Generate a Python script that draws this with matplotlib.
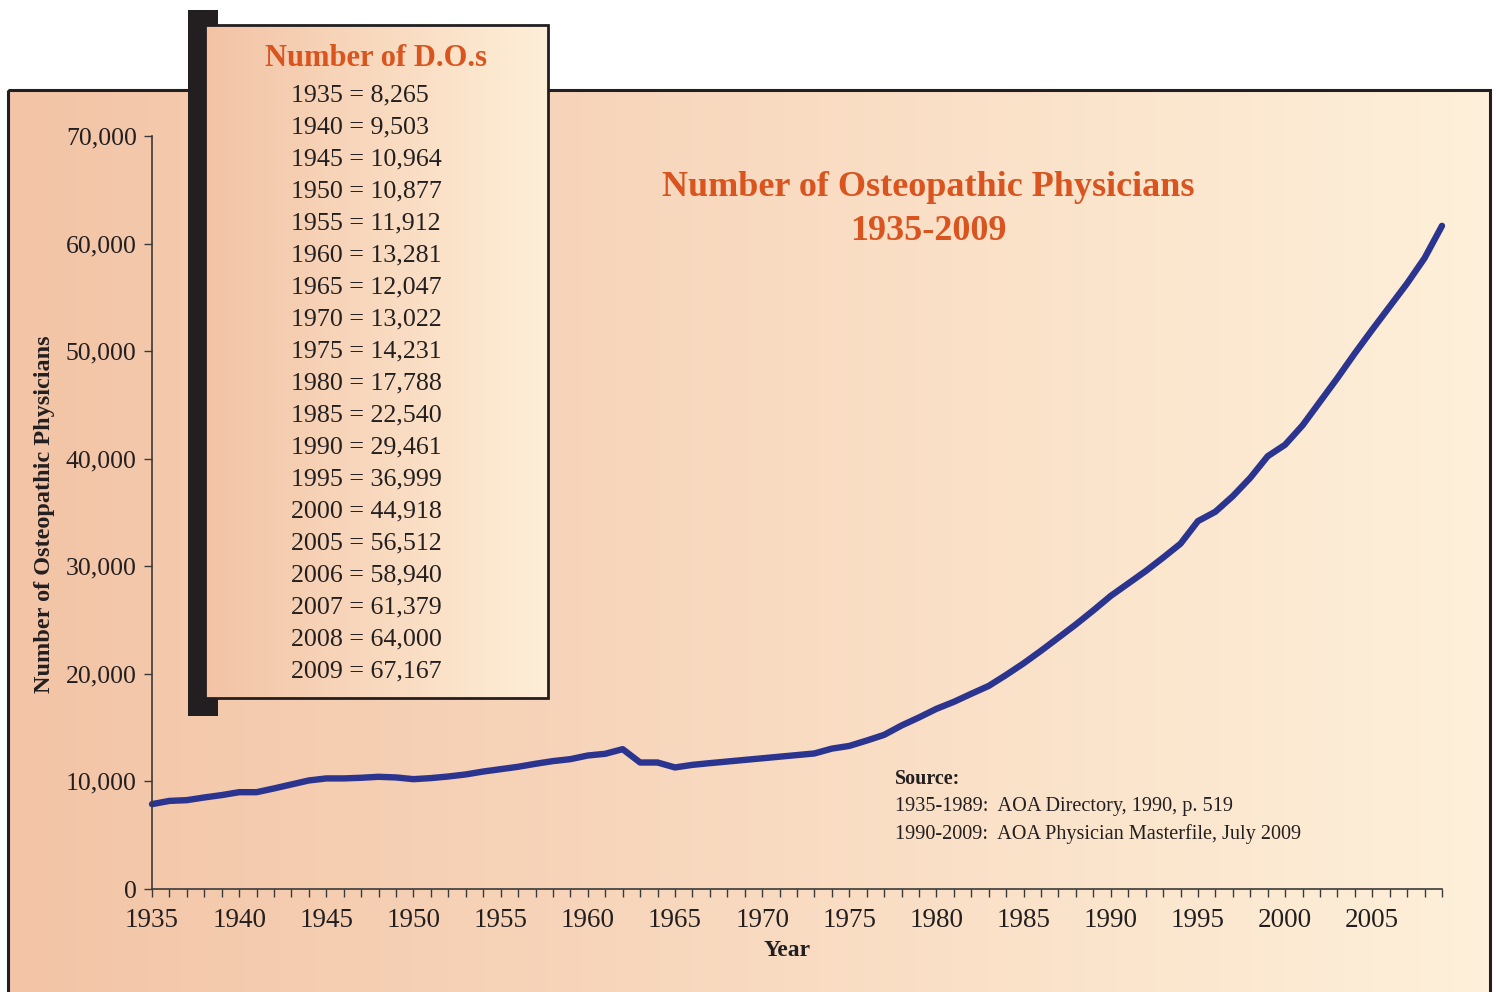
"""Number of Osteopathic Physicians 1935-2009, line chart with a D.O. count inset."""
import numpy as np
import matplotlib

matplotlib.use("Agg")
import matplotlib.pyplot as plt
from matplotlib.colors import LinearSegmentedColormap
from matplotlib.patches import Rectangle
from matplotlib.ticker import FuncFormatter, MultipleLocator

plt.rcParams["font.family"] = ["Liberation Serif", "DejaVu Serif"]

# --- data ---
years = list(range(1935, 2010))
physicians = [
    7890, 8190, 8260, 8510, 8730, 9000, 9000, 9350, 9720, 10090,
    10280, 10280, 10340, 10430, 10370, 10210, 10310, 10460, 10650, 10920,
    11140, 11360, 11640, 11890, 12070, 12410, 12570, 13000, 11760, 11760,
    11300, 11540, 11700, 11850, 12000, 12150, 12300, 12450, 12600, 13050,
    13300, 13800, 14330, 15200, 15950, 16750, 17400, 18150, 18880, 19900,
    20980, 22150, 23370, 24600, 25900, 27250, 28400, 29550, 30800, 32100,
    34200, 35070, 36520, 38220, 40230, 41300, 43100, 45300, 47500, 49800,
    52000, 54150, 56300, 58650, 61650,
]
table_years = [1935, 1940, 1945, 1950, 1955, 1960, 1965, 1970, 1975, 1980,
               1985, 1990, 1995, 2000, 2005, 2006, 2007, 2008, 2009]
table_counts = [8265, 9503, 10964, 10877, 11912, 13281, 12047, 13022, 14231, 17788,
                22540, 29461, 36999, 44918, 56512, 58940, 61379, 64000, 67167]

W, H = 1496, 992
INK = "#231F20"
ORANGE = "#D9541E"
NAVY = "#2B3590"

frame_cmap = LinearSegmentedColormap.from_list("frame", ["#F3C4A6", "#FEF0DA"])
box_cmap = LinearSegmentedColormap.from_list("box", ["#F3C3A5", "#FEEFD8"])
ramp = np.linspace(0, 1, 256)[None, :]

fig = plt.figure(figsize=(W / 100, H / 100), dpi=100)
fig.patch.set_facecolor("white")

# 背景层：像素坐标，画渐变框
bg = fig.add_axes([0, 0, 1, 1], zorder=0)
bg.imshow(ramp, extent=(8, 1490, 1000, 90), cmap=frame_cmap, aspect="auto")
bg.add_patch(Rectangle((8, 90), 1482, 920, fill=False, lw=2.2, ec=INK))
bg.set_xlim(0, W)
bg.set_ylim(H, 0)
bg.axis("off")

bg.text(928, 187, "Number of Osteopathic Physicians", color=ORANGE, fontsize=26,
        fontweight="bold", ha="center", va="center")
bg.text(928, 231, "1935-2009", color=ORANGE, fontsize=26,
        fontweight="bold", ha="center", va="center")
bg.text(45, 514, "Number of Osteopathic Physicians", color=INK, fontsize=17.5,
        fontweight="bold", rotation=90, ha="center", va="center")
bg.text(787, 951, "Year", color=INK, fontsize=17, fontweight="bold",
        ha="center", va="center")
bg.text(895, 779, "Source:", color=INK, fontsize=14.5, fontweight="bold",
        ha="left", va="center")
bg.text(895, 806, "1935-1989:  AOA Directory, 1990, p. 519", color=INK,
        fontsize=14.6, ha="left", va="center")
bg.text(895, 834, "1990-2009:  AOA Physician Masterfile, July 2009", color=INK,
        fontsize=14.6, ha="left", va="center")

# 主图
ax = fig.add_axes([152 / W, 1 - 889 / H, (1442 - 152) / W, (889 - 136) / H], zorder=1)
ax.patch.set_alpha(0)
ax.plot(years, physicians, color=NAVY, lw=4.6, solid_capstyle="round",
        solid_joinstyle="round", clip_on=False)
ax.set_xlim(1935, 2009)
ax.set_ylim(0, 70000)
for side in ("top", "right"):
    ax.spines[side].set_visible(False)
for side in ("left", "bottom"):
    ax.spines[side].set_color("#3A3A3A")
    ax.spines[side].set_linewidth(1.2)
ax.xaxis.set_major_locator(MultipleLocator(5))
ax.xaxis.set_minor_locator(MultipleLocator(1))
ax.yaxis.set_major_locator(MultipleLocator(10000))
ax.yaxis.set_major_formatter(FuncFormatter(lambda v, p: "{:,.0f}".format(v)))
ax.xaxis.set_major_formatter(FuncFormatter(lambda v, p: "" if v > 2005 else "%d" % v))
ax.tick_params(axis="both", which="both", direction="out", length=6, width=1,
               color="#3A3A3A", labelsize=18.5, labelcolor=INK)
ax.tick_params(axis="x", labelsize=19.5, pad=8)
ax.tick_params(axis="y", pad=5)

# 左上角的数据表 (带黑色阴影条)
ov = fig.add_axes([0, 0, 1, 1], zorder=5)
ov.add_patch(Rectangle((188, 10), 30, 706, color=INK, lw=0))
ov.imshow(ramp, extent=(205, 548, 698, 25), cmap=box_cmap, aspect="auto", zorder=2)
ov.add_patch(Rectangle((205, 25), 343, 673, fill=False, lw=2, ec=INK, zorder=3))
ov.set_xlim(0, W)
ov.set_ylim(H, 0)
ov.axis("off")

ov.text(376, 58, "Number of D.O.s", color=ORANGE, fontsize=22, fontweight="bold",
        ha="center", va="center", zorder=4)
for i, (yr, n) in enumerate(zip(table_years, table_counts)):
    ov.text(291, 95 + 32 * i, "%d = %s" % (yr, "{:,}".format(n)), color=INK,
            fontsize=18.7, ha="left", va="center", zorder=4)

fig.savefig("out.png", dpi=100)
plt.close(fig)
